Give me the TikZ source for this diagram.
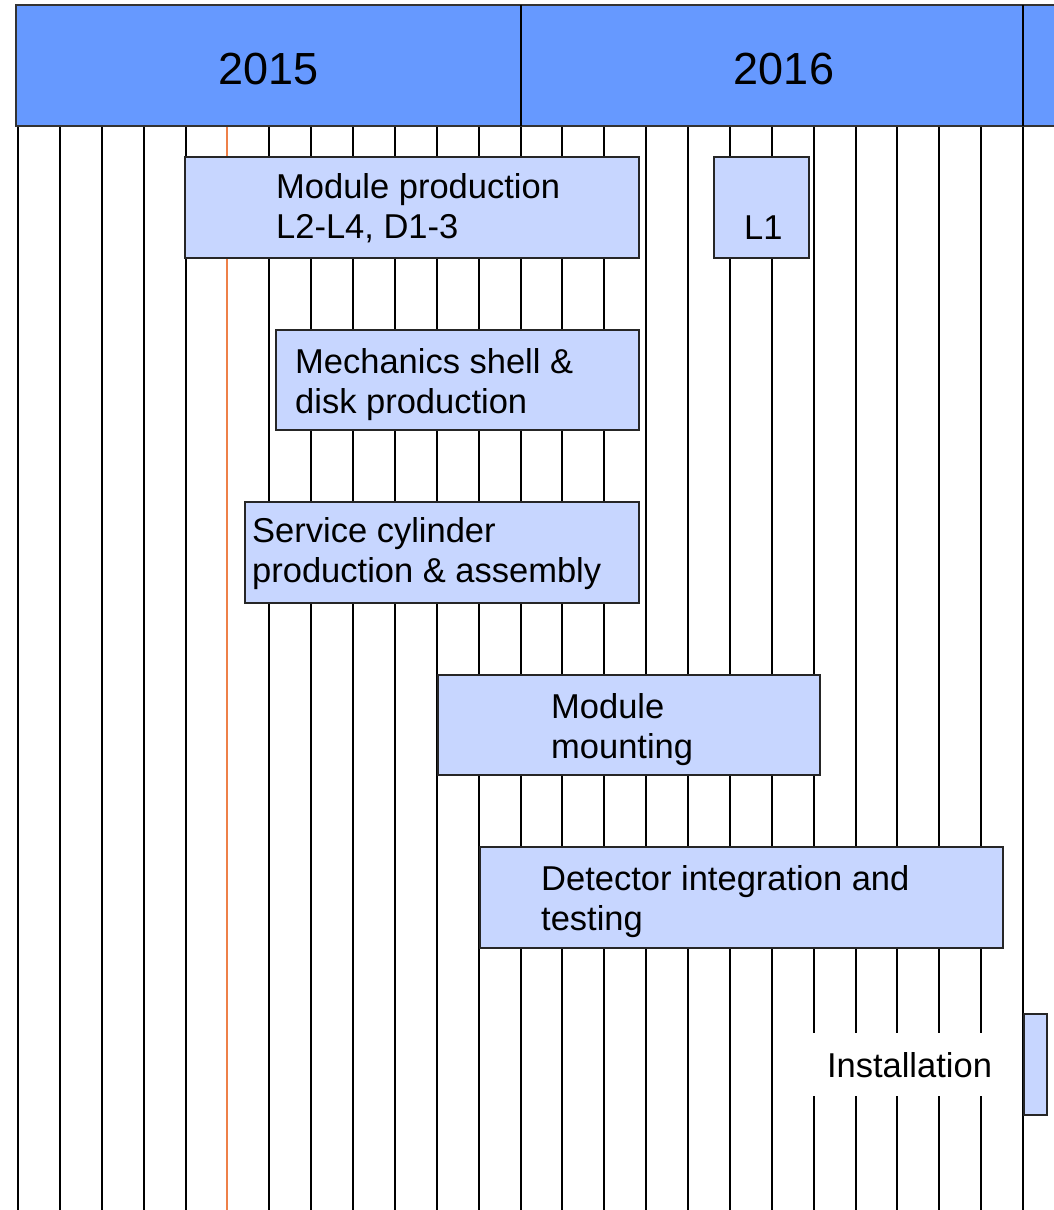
\documentclass[tikz,border=0pt]{standalone}
\usepackage{fontspec}
\setmainfont{Liberation Sans}
\usetikzlibrary{positioning}
\definecolor{yearblue}{RGB}{102,153,255}
\definecolor{taskblue}{RGB}{199,214,255}
\definecolor{nowline}{RGB}{238,128,72}
\tikzset{
  task/.style={draw=black!85, fill=taskblue, line width=1.5, inner sep=0, anchor=north west},
  tasktext/.style={anchor=base west, inner sep=0, font=\fontsize{34.5}{40}\selectfont},
  yeartext/.style={anchor=base, inner sep=0, font=\fontsize{45}{54}\selectfont},
}

\begin{document}
\begin{tikzpicture}[x=1pt,y=-1pt]
\useasboundingbox (0,0) rectangle (1054,1210);
% months
\foreach \k in {0,...,4,6,7,...,24}
  \draw[line width=2]({18+41.875*\k},126)--({18+41.875*\k},1210);
\draw[nowline,line width=2](227.4,126)--(227.4,1210);
% years
\draw[fill=yearblue,draw=black!80,line width=1.5](16,5) rectangle (1070,126);
\draw[line width=2](520.5,5)--(520.5,126);
\draw[line width=2](1023,5)--(1023,126);
\node[yeartext] (y15) at (268.5,84) {2015};
\node[yeartext] (y16) at (784,84) {2016};
% tasks
\node[task,minimum width=454,minimum height=101] (modprod) at (184,156) {};
\node[tasktext] (modprodtxt) at (276,198) {\begin{tabular}[t]{@{}l@{}}Module production\\L2-L4, D1-3\end{tabular}};
\node[task,minimum width=95,minimum height=101] (l1) at (713,156) {};
\node[tasktext] (l1txt) at (744,239) {L1};
\node[task,minimum width=363,minimum height=100] (mech) at (275,329) {};
\node[tasktext] (mechtxt) at (295,373) {\begin{tabular}[t]{@{}l@{}}Mechanics shell \&\\disk production\end{tabular}};
\node[task,minimum width=394,minimum height=101] (servcyl) at (244,501) {};
\node[tasktext] (servcyltxt) at (252,542) {\begin{tabular}[t]{@{}l@{}}Service cylinder\\production \& assembly\end{tabular}};
\node[task,minimum width=382,minimum height=100] (modmount) at (437,674) {};
\node[tasktext] (modmounttxt) at (551,718) {\begin{tabular}[t]{@{}l@{}}Module\\mounting\end{tabular}};
\node[task,minimum width=523,minimum height=101] (detint) at (479,846) {};
\node[tasktext] (detinttxt) at (541,890) {\begin{tabular}[t]{@{}l@{}}Detector integration and\\testing\end{tabular}};
\node[task,minimum width=23,minimum height=101] (inst) at (1023,1013) {};
\node[tasktext,anchor=base,fill=white,inner xsep=17,inner ysep=19] (insttxt) at (909.5,1077) {Installation};
\end{tikzpicture}
\end{document}
